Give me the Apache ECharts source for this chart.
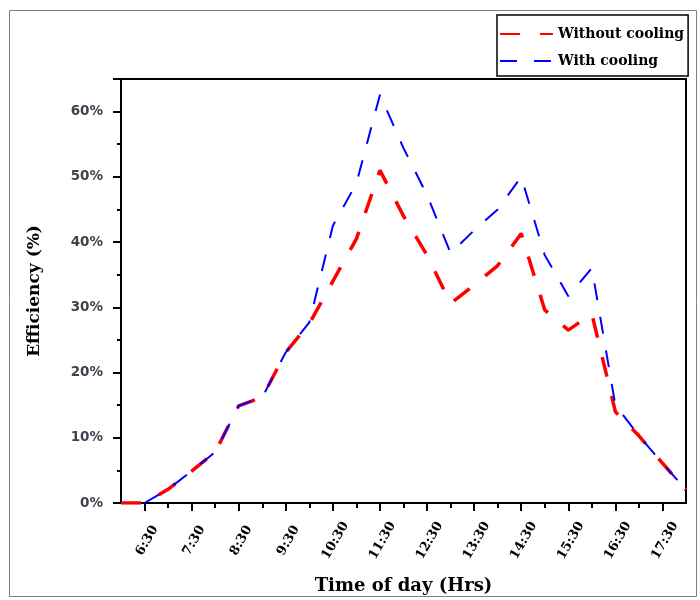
<!DOCTYPE html>
<html>
<head>
<meta charset="utf-8">
<script src="https://cdn.jsdelivr.net/npm/echarts@6/dist/echarts.min.js"></script>
<style>
  html, body { margin: 0; padding: 0; background: #fff; }
  #chart-container { width: 700px; height: 600px; }
</style>
</head>
<body>
<div id="chart-container"></div>
<script>
// time of day in hours (6 = 6:00, 6.5 = 6:30 ...)
var times = [6, 6.5, 7, 7.5, 8, 8.5, 9, 9.5, 10, 10.5, 11, 11.5, 12,
  12.5, 13, 13.5, 14, 14.5, 15, 15.5, 16, 16.5, 17, 17.5, 18];
// efficiency in %
var withoutCooling = [0, 0, 2.1, 4.9, 7.8, 14.9, 16.2, 23.1, 27.5, 34, 40.5, 51, 44,
  38, 30.6, 33.4, 36.4, 41.3, 29.6, 26.5, 29, 14, 10.3, 6.1, 2];
var withCooling = [null, 0, 2.1, 4.9, 7.8, 14.9, 16.2, 23.1, 27.7, 42.5, 49, 62.6, 54.4,
  47.2, 38.3, 41.8, 45, 50, 38, 31.7, 36, 15, 10.3, 6.1, 2];
var labelTimes = [6.5, 7.5, 8.5, 9.5, 10.5, 11.5, 12.5, 13.5, 14.5, 15.5, 16.5, 17.5];
var hourTimes = [7, 8, 9, 10, 11, 12, 13, 14, 15, 16, 17];

function pairs(vals) {
  var out = [];
  for (var i = 0; i < times.length; i++) {
    if (vals[i] !== null) out.push([times[i], vals[i]]);
  }
  return out;
}

var dom = document.getElementById('chart-container');
var myChart = echarts.init(dom, null, { renderer: 'canvas' });

var serifBold = { fontFamily: 'DejaVu Serif', fontWeight: 'bold', color: '#000' };

var option = {
  animation: false,
  backgroundColor: '#fff',
  graphic: [{
    type: 'rect',
    shape: { x: 9.5, y: 10.5, width: 687, height: 586 },
    style: { fill: null, stroke: '#808080', lineWidth: 1 },
    silent: true
  }],
  grid: {
    left: 121, right: 14, top: 79, bottom: 97,
    show: true, borderColor: '#000', borderWidth: 2, backgroundColor: '#fff'
  },
  legend: {
    left: 497, top: 15,
    orient: 'vertical',
    backgroundColor: '#fff',
    borderColor: '#000', borderWidth: 1.5,
    padding: [12, 4, 8, 2],
    itemWidth: 53, itemHeight: 14, itemGap: 13,
    itemStyle: { opacity: 0 },
    textStyle: { fontFamily: 'DejaVu Serif', fontWeight: 'bold', fontSize: 14, color: '#000' },
    z: 10
  },
  xAxis: [{
    type: 'value', min: 6, max: 18,
    name: 'Time of day (Hrs)', nameLocation: 'middle', nameGap: 74,
    nameTextStyle: Object.assign({ fontSize: 18 }, serifBold),
    axisLine: { lineStyle: { color: '#000', width: 2 } },
    axisTick: { customValues: labelTimes, length: 8, lineStyle: { color: '#000', width: 2 } },
    axisLabel: {
      customValues: labelTimes,
      rotate: 60, align: 'center', verticalAlign: 'middle', margin: 42,
      padding: [0, 0, 0, 10],
      fontFamily: 'DejaVu Serif', fontWeight: 'bold', fontSize: 13, color: '#000',
      formatter: function (v) { return Math.floor(v) + ':30'; }
    },
    splitLine: { show: false }
  }, {
    type: 'value', min: 6, max: 18, position: 'bottom',
    axisLine: { show: false },
    axisTick: { customValues: hourTimes, length: 5, lineStyle: { color: '#000', width: 2 } },
    axisLabel: { show: false },
    splitLine: { show: false }
  }],
  yAxis: {
    type: 'value', min: 0, max: 65, interval: 10,
    name: 'Efficiency (%)', nameLocation: 'middle', nameGap: 78,
    nameTextStyle: Object.assign({ fontSize: 17 }, serifBold),
    axisLine: { show: true, lineStyle: { color: '#000', width: 2 } },
    axisTick: { show: true, length: 8, lineStyle: { color: '#000', width: 2 } },
    minorTick: { show: true, splitNumber: 2, length: 4, lineStyle: { color: '#000', width: 2 } },
    axisLabel: {
      showMaxLabel: false, margin: 18,
      fontFamily: 'DejaVu Sans', fontWeight: 'bold', fontSize: 13.5, color: '#45404f',
      formatter: '{value}%'
    },
    splitLine: { show: false }
  },
  series: [{
    name: 'Without cooling',
    type: 'line',
    data: pairs(withoutCooling),
    symbol: 'none',
    itemStyle: { color: '#ff0000' },
    lineStyle: { color: '#ff0000', width: 3.5, type: [20, 20] }
  }, {
    name: 'With cooling',
    type: 'line',
    data: pairs(withCooling),
    symbol: 'none',
    itemStyle: { color: '#0000ff' },
    lineStyle: { color: '#0000ff', width: 2, type: [17, 17] }
  }]
};

myChart.setOption(option);
window.addEventListener('resize', myChart.resize);
</script>
</body>
</html>
